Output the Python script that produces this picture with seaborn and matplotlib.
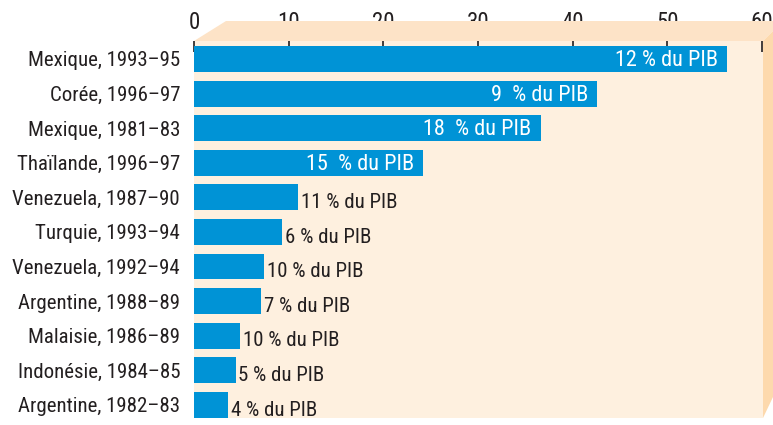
import matplotlib.pyplot as plt
import seaborn as sns
import pandas as pd
from matplotlib.patches import Polygon

# episodes and fiscal cost (bars) with label as % of GDP
episodes = ["Mexique, 1993–95", "Corée, 1996–97", "Mexique, 1981–83", "Thaïlande, 1996–97",
            "Venezuela, 1987–90", "Turquie, 1993–94", "Venezuela, 1992–94", "Argentine, 1988–89",
            "Malaisie, 1986–89", "Indonésie, 1984–85", "Argentine, 1982–83"]
values = [56.3, 42.6, 36.6, 24.2, 11.0, 9.3, 7.4, 7.1, 4.9, 4.4, 3.6]
gdp_labels = ["12 % du PIB", "9  % du PIB", "18  % du PIB", "15  % du PIB", "11 % du PIB",
              "6 % du PIB", "10 % du PIB", "7 % du PIB", "10 % du PIB", "5 % du PIB", "4 % du PIB"]
inside = [True, True, True, True, False, False, False, False, False, False, False]

df = pd.DataFrame({"episode": episodes, "value": values})

sns.set_style("white")
plt.rcParams["font.family"] = ["Roboto Condensed", "Liberation Sans Narrow", "Roboto", "DejaVu Sans"]
txt = "#231f20"

W, H = 773, 425
fig = plt.figure(figsize=(W / 100, H / 100), dpi=100)

# fake 3d box behind the plot
def px(pts):
    return [(x / W, 1 - y / H) for x, y in pts]

fig.patches.append(Polygon(px([(194, 41), (226, 21), (773, 21), (773, 31), (763, 41)]),
                           closed=True, transform=fig.transFigure, facecolor="#fde3c7",
                           edgecolor="none", zorder=0))
fig.patches.append(Polygon(px([(763, 41), (773, 31), (773, 397), (763, 418)]),
                           closed=True, transform=fig.transFigure, facecolor="#fdd9ad",
                           edgecolor="none", zorder=0))

ax = fig.add_axes([194 / W, 1 - 418 / H, (763 - 194) / W, (418 - 41) / H])
ax.set_facecolor("#fef0df")

sns.barplot(data=df, x="value", y="episode", color="#0093d6", width=0.75,
            saturation=1, linewidth=0, ax=ax, orient="h")

ax.set_xlim(0, 60.1)
ax.set_ylim(10.38, -0.52)
ax.set_xticks(range(0, 61, 10))
ax.xaxis.tick_top()
ax.tick_params(axis="x", direction="in", length=8, width=1.2, color=txt,
               labelsize=16.5, labelcolor=txt, pad=5)
ax.tick_params(axis="y", length=0, labelsize=15, labelcolor=txt, pad=10)
ax.set_xlabel("")
ax.set_ylabel("")
for s in ax.spines.values():
    s.set_visible(False)

for i, (v, lab, ins) in enumerate(zip(values, gdp_labels, inside)):
    if ins:
        ax.text(v - 1.0, i + 0.05, lab, color="white", ha="right", va="center", fontsize=16)
    else:
        ax.text(v + 0.3, i + 0.15, lab, color=txt, ha="left", va="center", fontsize=15)

fig.savefig("out.png", dpi=100)
